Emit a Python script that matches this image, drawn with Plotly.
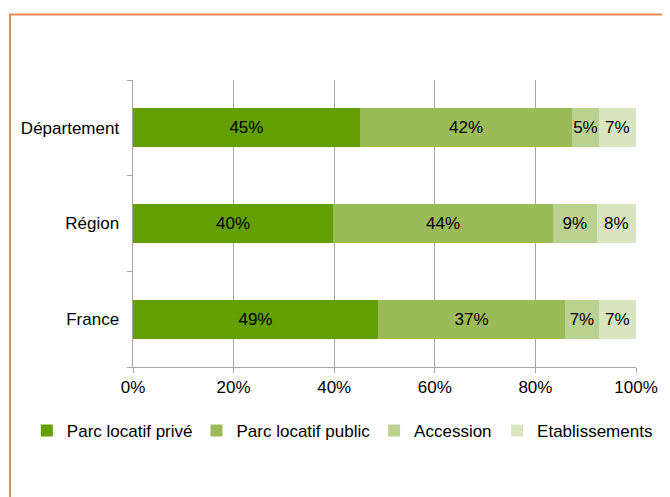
import plotly.graph_objects as go

categories = ["Département", "Région", "France"]
series_names = ["Parc locatif privé", "Parc locatif public", "Accession", "Etablissements"]
prive = [0.451, 0.398, 0.487]
public = [0.422, 0.437, 0.372]
accession = [0.053, 0.087, 0.067]
etablissements = [0.074, 0.078, 0.074]
x_ticks = [0, 0.2, 0.4, 0.6, 0.8, 1.0]

series_values = [prive, public, accession, etablissements]
colors = ["#649F00", "#9BBB59", "#BBD18F", "#D8E5BE"]
legend_ids = ["legend", "legend2", "legend3", "legend4"]

W, H = 662, 489
L, R, T, B = 125, 30, 72, 130
pw, ph = W - L - R, H - T - B
legend_px = [18, 189, 368, 492]
legend_x = [(p - L) / pw for p in legend_px]
FONT = "Liberation Sans, Arial"

fig = go.Figure()
for name, vals, col, lg in zip(series_names, series_values, colors, legend_ids):
    fig.add_trace(go.Bar(
        y=categories, x=vals, name=name, orientation="h",
        marker=dict(color=col, line=dict(width=0)),
        texttemplate="%{x:.0%}", textposition="inside", insidetextanchor="middle",
        constraintext="none", textangle=0,
        textfont=dict(family=FONT, size=17, color="#000000"),
        width=0.41, legend=lg, hoverinfo="skip",
    ))

fig.update_layout(
    width=W, height=H, barmode="stack",
    margin=dict(l=L, r=R, t=T, b=B),
    paper_bgcolor="white", plot_bgcolor="white",
    font=dict(family=FONT, size=17, color="#000000"),
    xaxis=dict(range=[0, 1], tickvals=x_ticks, tickformat=".0%",
               showgrid=True, gridcolor="#A6A6A6", gridwidth=1,
               showline=True, linecolor="#A6A6A6", linewidth=1,
               ticks="outside", ticklen=5, tickcolor="#A6A6A6",
               zeroline=False, fixedrange=True),
    yaxis=dict(categoryorder="array", categoryarray=categories[::-1],
               tickson="boundaries", ticks="outside", ticklen=5, tickcolor="#A6A6A6",
               showline=True, linecolor="#A6A6A6", linewidth=1,
               showgrid=False, range=[-0.5, 2.5], ticksuffix="  ", fixedrange=True),
    showlegend=True,
)
for lg, lx in zip(legend_ids, legend_x):
    fig.update_layout({lg: dict(x=lx, y=-0.223, xanchor="left", yanchor="middle",
                                orientation="h", bgcolor="rgba(0,0,0,0)",
                                font=dict(family=FONT, size=17),
                                itemwidth=30)})

fig.add_shape(type="rect", xref="paper", yref="paper",
              x0=(1 - L) / pw, x1=(700 - L) / pw,
              y0=(H - B - 520) / ph, y1=(H - B - 6.5) / ph,
              line=dict(color="#EE8A4C", width=2), fillcolor="rgba(0,0,0,0)", layer="below")

fig.write_html("out.html")
